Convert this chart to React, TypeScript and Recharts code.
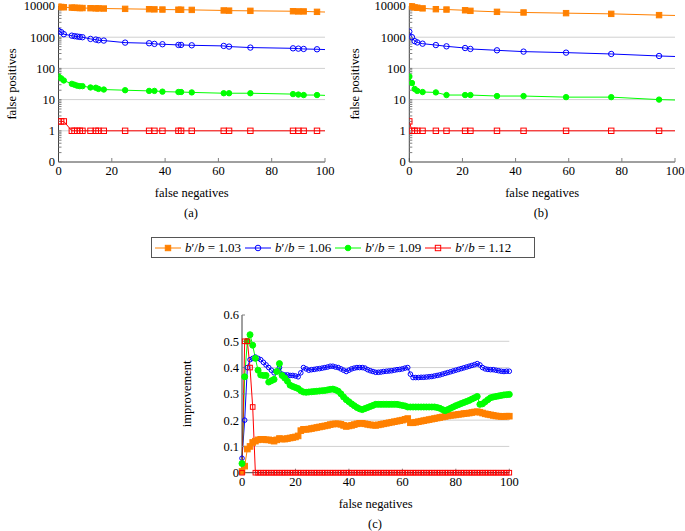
import React from 'react';
import { LineChart, Line, XAxis, YAxis, CartesianGrid } from 'recharts';

// series: b'/b ratios
const RATIOS = ['1.03', '1.06', '1.09', '1.12'];
const COLORS = ['#ff8000', '#0000ff', '#00ff00', '#ff0000'];
const SHAPES = ['square', 'circle', 'circle', 'square'];
const FILLED = [true, false, true, false];

// panel (a): false negatives vs false positives (last point lies past the frame)
const FN_A = [0, 1, 2, 5, 6, 7, 8, 9, 12, 14, 15, 17, 25, 34, 36, 39, 45, 46, 50, 62, 64, 72, 88, 90, 92, 97, 104];
const ORANGE_A = [9500, 9300, 9100, 8900, 8800, 8700, 8600, 8600, 8500, 8400, 8400, 8300, 8100, 7900, 7800, 7700, 7600, 7600, 7500, 7200, 7100, 7000, 6800, 6700, 6700, 6500, 6300];
const BLUE_A = [1600, 1450, 1250, 1120, 1080, 1050, 1020, 1000, 880, 840, 800, 780, 670, 640, 610, 595, 565, 565, 550, 525, 500, 465, 440, 430, 420, 410, 390];
const GREEN_A = [55, 48, 41, 32, 30, 28, 27, 27, 24.5, 24, 22, 21, 20, 19, 19, 18, 17.5, 17.5, 17, 16, 16, 16, 15, 14.5, 14, 14, 13.2];
const RED_A = [2, 2, 2, 1, 1, 1, 1, 1, 1, 1, 1, 1, 1, 1, 1, 1, 1, 1, 1, 1, 1, 1, 1, 1, 1, 1, 1];

// panel (b)
const FN_B = [0, 1, 2, 3, 5, 10, 14, 21, 23, 33, 43, 59, 76, 94, 104];
const ORANGE_B = [9800, 9700, 9000, 8800, 8400, 7900, 7700, 7300, 7000, 6500, 6200, 5900, 5600, 5100, 4900];
const BLUE_B = [1500, 1000, 750, 680, 620, 560, 510, 450, 420, 380, 345, 320, 290, 250, 235];
const GREEN_B = [55, 34, 22, 19, 17.5, 17, 14, 14, 14, 13, 13, 12, 12, 10, 9.5];
const RED_B = [2, 1, 1, 1, 1, 1, 1, 1, 1, 1, 1, 1, 1, 1, 1];

// panel (c): improvement
const FN_C = [
  0, 1, 2, 3, 4, 5, 6, 7, 8, 9, 10, 11, 12, 13, 14, 15, 16, 17, 18, 19, 20,
  21, 22, 23, 24, 25, 26, 27, 28, 29, 30, 31, 32, 33, 34, 35, 36, 37, 38, 39, 40,
  41, 42, 43, 44, 45, 46, 47, 48, 49, 50, 51, 52, 53, 54, 55, 56, 57, 58, 59, 60,
  61, 62, 63, 64, 65, 66, 67, 68, 69, 70, 71, 72, 73, 74, 75, 76, 77, 78, 79, 80,
  81, 82, 83, 84, 85, 86, 87, 88, 89, 90, 91, 92, 93, 94, 95, 96, 97, 98, 99, 100,
];
const ORANGE_C = [
  0.005, 0.025, 0.09, 0.1, 0.115, 0.12, 0.125, 0.127, 0.127, 0.125, 0.125, 0.123, 0.12, 0.125, 0.13, 0.128, 0.128, 0.13, 0.132, 0.134, 0.136,
  0.14, 0.16, 0.165, 0.165, 0.166, 0.168, 0.17, 0.172, 0.174, 0.176, 0.178, 0.18, 0.183, 0.185, 0.186, 0.186, 0.184, 0.18, 0.176, 0.178,
  0.18, 0.183, 0.186, 0.188, 0.188, 0.186, 0.184, 0.182, 0.181, 0.18, 0.182, 0.184, 0.186, 0.188, 0.19, 0.192, 0.194, 0.196, 0.198, 0.2,
  0.203, 0.206, 0.19, 0.19, 0.192, 0.194, 0.196, 0.198, 0.2, 0.202, 0.204, 0.206, 0.208, 0.21, 0.212, 0.214, 0.216, 0.218, 0.219, 0.22,
  0.222, 0.223, 0.225, 0.226, 0.227, 0.229, 0.231, 0.232, 0.23, 0.227, 0.224, 0.222, 0.22, 0.218, 0.216, 0.215, 0.214, 0.214, 0.215, 0.215,
];
const BLUE_C = [
  0.055, 0.2, 0.4, 0.43, 0.435, 0.44, 0.435, 0.43, 0.42, 0.41, 0.4, 0.39, 0.38, 0.385, 0.4, 0.375, 0.372, 0.372, 0.37, 0.37, 0.368,
  0.365, 0.38, 0.4, 0.395, 0.39, 0.392, 0.393, 0.395, 0.396, 0.398, 0.4, 0.402, 0.405, 0.405, 0.402, 0.4, 0.395, 0.39, 0.385, 0.39,
  0.395, 0.398, 0.4, 0.4, 0.4, 0.398, 0.392, 0.388, 0.385, 0.382, 0.382, 0.383, 0.385, 0.386, 0.387, 0.388, 0.39, 0.392, 0.393, 0.395,
  0.398, 0.4, 0.375, 0.362, 0.362, 0.362, 0.363, 0.363, 0.364, 0.365, 0.366, 0.368, 0.37, 0.372, 0.375, 0.378, 0.381, 0.384, 0.387, 0.39,
  0.393, 0.396, 0.399, 0.402, 0.405, 0.408, 0.411, 0.415, 0.41, 0.4, 0.395, 0.393, 0.392, 0.392, 0.39, 0.388, 0.386, 0.385, 0.386, 0.386,
];
const GREEN_C = [
  0.035, 0.365, 0.5, 0.525, 0.485, 0.435, 0.39, 0.372, 0.37, 0.37, 0.345, 0.35, 0.355, 0.385, 0.415, 0.37, 0.36, 0.348, 0.333, 0.328, 0.324,
  0.32, 0.312, 0.307, 0.306, 0.307, 0.308, 0.309, 0.31, 0.311, 0.312, 0.313, 0.315, 0.317, 0.318, 0.315, 0.31, 0.3, 0.288, 0.278, 0.27,
  0.262, 0.255, 0.248, 0.243, 0.24, 0.244, 0.248, 0.252, 0.256, 0.26, 0.26, 0.26, 0.26, 0.26, 0.26, 0.26, 0.26, 0.26, 0.258, 0.256,
  0.254, 0.25, 0.25, 0.25, 0.25, 0.25, 0.25, 0.25, 0.25, 0.25, 0.25, 0.25, 0.248, 0.245, 0.24, 0.236, 0.24, 0.245, 0.25, 0.255,
  0.259, 0.263, 0.267, 0.271, 0.275, 0.28, 0.285, 0.29, 0.26, 0.262, 0.27, 0.278, 0.285, 0.288, 0.29, 0.292, 0.294, 0.296, 0.297, 0.298,
];
const RED_C = [
  0, 0.5, 0.5, 0.4, 0.25, 0, 0, 0, 0, 0, 0, 0, 0, 0, 0, 0, 0, 0, 0, 0, 0,
  0, 0, 0, 0, 0, 0, 0, 0, 0, 0, 0, 0, 0, 0, 0, 0, 0, 0, 0, 0,
  0, 0, 0, 0, 0, 0, 0, 0, 0, 0, 0, 0, 0, 0, 0, 0, 0, 0, 0, 0,
  0, 0, 0, 0, 0, 0, 0, 0, 0, 0, 0, 0, 0, 0, 0, 0, 0, 0, 0, 0,
  0, 0, 0, 0, 0, 0, 0, 0, 0, 0, 0, 0, 0, 0, 0, 0, 0, 0, 0, 0,
];

// axes
const X_TICKS = [0, 20, 40, 60, 80, 100];
const LOG_MAJOR_TICKS = [0, 1, 2, 3, 4, 5];
const LOG_MAJOR_LABELS = ['0', '1', '10', '100', '1000', '10000'];
const LOG_MINOR_MULT = [2, 3, 4, 5, 6, 7, 8, 9];
const IMPR_TICKS = [0, 0.1, 0.2, 0.3, 0.4, 0.5, 0.6];
const IMPR_GRID = [0.1, 0.2, 0.3, 0.4, 0.5];

// 0 is drawn one decade below 1 on the log axis
const toLog = (v: number) => (v > 0 ? Math.log10(v) + 1 : 0);

const LOG_TICKS = [
  ...LOG_MAJOR_TICKS,
  ...[0, 1, 2, 3, 4].flatMap((d) => LOG_MINOR_MULT.map((m) => d + Math.log10(m))),
].sort((a, b) => a - b);

const logLabel = (v: number) => {
  const i = LOG_MAJOR_TICKS.indexOf(v);
  return i >= 0 ? LOG_MAJOR_LABELS[i] : '';
};

const buildRows = (fn: number[], series: number[][], f: (v: number) => number) =>
  fn.map((x, i) => {
    const r: Record<string, number> = { fn: x };
    series.forEach((s, k) => {
      r[`s${k}`] = f(s[i]);
    });
    return r;
  });

const rowsA = buildRows(FN_A, [ORANGE_A, BLUE_A, GREEN_A, RED_A], toLog);
const rowsB = buildRows(FN_B, [ORANGE_B, BLUE_B, GREEN_B, RED_B], toLog);
const rowsC = buildRows(FN_C, [ORANGE_C, BLUE_C, GREEN_C, RED_C], (v) => v);

const FONT = '"Liberation Serif", "Times New Roman", serif';
const TICK_STYLE = { fill: '#000', fontSize: 12.5, fontFamily: FONT };
const LABEL_STYLE = { fill: '#000', fontSize: 12.5, fontFamily: FONT };
const AXIS = { stroke: '#404040', strokeWidth: 1 };
const TLINE = { stroke: '#808080', strokeWidth: 1 };
const blank = () => '';

const markerFor = (k: number, size: number) => (props: any) => {
  const { cx, cy, index, payload } = props;
  const key = `m${k}-${index}`;
  if (cx == null || cy == null || (payload && payload.fn > 100)) return <g key={key} />;
  const c = COLORS[k];
  const fill = FILLED[k] ? c : 'none';
  if (SHAPES[k] === 'square') {
    return <rect key={key} x={cx - size} y={cy - size} width={size * 2} height={size * 2} fill={fill} stroke={c} strokeWidth={1} />;
  }
  return <circle key={key} cx={cx} cy={cy} r={size} fill={fill} stroke={c} strokeWidth={1} />;
};

function LogPanel({ rows, width, yAxisWidth, marginRight, yLabelX }: any) {
  return (
    <LineChart width={width} height={200} data={rows} margin={{ top: 6, right: marginRight, bottom: 0, left: 0 }}>
      <CartesianGrid xAxisId="b" yAxisId="l" vertical={false} horizontalValues={[1, 2, 3, 4]} stroke="#d0d0d0" />
      <XAxis
        xAxisId="b"
        dataKey="fn"
        type="number"
        domain={[0, 100]}
        ticks={X_TICKS}
        allowDataOverflow
        interval={0}
        height={38}
        tickSize={-4}
        tickMargin={8}
        tick={TICK_STYLE}
        axisLine={AXIS}
        tickLine={TLINE}
        label={{ value: 'false negatives', position: 'insideBottom', offset: 3.5, style: LABEL_STYLE }}
      />
      <XAxis xAxisId="t" orientation="top" dataKey="fn" type="number" domain={[0, 100]} ticks={X_TICKS} allowDataOverflow interval={0} height={0} tickSize={-4} tickFormatter={blank} axisLine={AXIS} tickLine={TLINE} />
      <YAxis
        yAxisId="l"
        type="number"
        domain={[0, 5]}
        ticks={LOG_TICKS}
        interval={0}
        width={yAxisWidth}
        tickSize={-3}
        tickMargin={6.5}
        tickFormatter={logLabel}
        tick={TICK_STYLE}
        axisLine={AXIS}
        tickLine={TLINE}
        label={{ value: 'false positives', angle: -90, position: 'insideLeft', offset: yLabelX, style: { ...LABEL_STYLE, textAnchor: 'middle' } }}
      />
      <YAxis yAxisId="r" orientation="right" type="number" domain={[0, 5]} ticks={LOG_TICKS} interval={0} width={0} tickSize={-3} tickFormatter={blank} axisLine={AXIS} tickLine={TLINE} />
      {[0, 1, 2, 3].map((k) => (
        <Line key={k} xAxisId="b" yAxisId="l" type="linear" dataKey={`s${k}`} stroke={COLORS[k]} strokeWidth={1} dot={markerFor(k, 2.7)} isAnimationActive={false} />
      ))}
    </LineChart>
  );
}

function ImprovementPanel() {
  return (
    <LineChart width={350} height={230} data={rowsC} margin={{ top: 25, right: 10.7, bottom: 0, left: 0 }}>
      <CartesianGrid xAxisId="b" yAxisId="l" vertical={false} horizontalValues={IMPR_GRID} stroke="#d0d0d0" />
      <XAxis
        xAxisId="b"
        dataKey="fn"
        type="number"
        domain={[0, 100]}
        ticks={X_TICKS}
        interval={0}
        height={47.3}
        tickSize={-4}
        tickMargin={8}
        tick={TICK_STYLE}
        axisLine={AXIS}
        tickLine={TLINE}
        label={{ value: 'false negatives', position: 'insideBottom', offset: 12, style: LABEL_STYLE }}
      />
      <XAxis xAxisId="t" orientation="top" dataKey="fn" type="number" domain={[0, 100]} ticks={X_TICKS} interval={0} height={0} tickSize={-4} tickFormatter={blank} axisLine={AXIS} tickLine={TLINE} />
      <YAxis
        yAxisId="l"
        type="number"
        domain={[0, 0.6]}
        ticks={IMPR_TICKS}
        interval={0}
        width={72}
        tickSize={-3}
        tickMargin={6}
        tickFormatter={(v: number) => (v === 0 ? '0' : v.toFixed(1))}
        tick={TICK_STYLE}
        axisLine={AXIS}
        tickLine={TLINE}
        label={{ value: 'improvement', angle: -90, position: 'insideLeft', offset: 17, style: { ...LABEL_STYLE, textAnchor: 'middle' } }}
      />
      <YAxis yAxisId="r" orientation="right" type="number" domain={[0, 0.6]} ticks={IMPR_TICKS} interval={0} width={0} tickSize={-3} tickFormatter={blank} axisLine={AXIS} tickLine={TLINE} />
      {[0, 1, 2, 3].map((k) => (
        <Line
          key={k}
          xAxisId="b"
          yAxisId="l"
          type="linear"
          dataKey={`s${k}`}
          stroke={COLORS[k]}
          strokeWidth={1}
          dot={markerFor(k, k === 0 ? 2.8 : k === 2 ? 3 : 2.3)}
          isAnimationActive={false}
        />
      ))}
    </LineChart>
  );
}

function LegendIcon({ k }: { k: number }) {
  const c = COLORS[k];
  const fill = FILLED[k] ? c : 'none';
  return (
    <svg width={26} height={10} style={{ display: 'block' }}>
      <line x1={0} y1={5} x2={26} y2={5} stroke={c} strokeWidth={1} />
      {SHAPES[k] === 'square' ? (
        <rect x={10.3} y={2.3} width={5.4} height={5.4} fill={fill} stroke={c} />
      ) : (
        <circle cx={13} cy={5} r={2.8} fill={fill} stroke={c} />
      )}
    </svg>
  );
}

const caption = (text: string, cx: number, cy: number) => (
  <div style={{ position: 'absolute', left: cx - 20, top: cy - 8, width: 40, textAlign: 'center', fontSize: 12.5, lineHeight: '16px' }}>{text}</div>
);

export default function App() {
  return (
    <div style={{ position: 'absolute', left: 0, top: 0, width: 685, height: 531, background: '#fff', fontFamily: FONT, color: '#000' }}>
      <div style={{ position: 'absolute', left: 0, top: 0 }}>
        <LogPanel rows={rowsA} width={340} yAxisWidth={58.5} marginRight={15} yLabelX={12} />
      </div>
      <div style={{ position: 'absolute', left: 340, top: 0 }}>
        <LogPanel rows={rowsB} width={345} yAxisWidth={69.3} marginRight={10} yLabelX={15} />
      </div>
      {caption('(a)', 191, 213)}
      {caption('(b)', 541, 213)}

      <div
        style={{
          position: 'absolute',
          left: 151,
          top: 237,
          width: 379,
          height: 19,
          border: '1px solid #555',
          display: 'flex',
          alignItems: 'center',
          paddingLeft: 3,
          boxSizing: 'content-box',
          fontSize: 13,
        }}
      >
        {RATIOS.map((r, k) => (
          <div key={r} style={{ display: 'flex', alignItems: 'center', marginRight: 4 }}>
            <LegendIcon k={k} />
            <span style={{ marginLeft: 4, whiteSpace: 'nowrap' }}>
              <i>b</i>′/<i>b</i> = {r}
            </span>
          </div>
        ))}
      </div>

      <div style={{ position: 'absolute', left: 170, top: 290 }}>
        <ImprovementPanel />
      </div>
      {caption('(c)', 375, 524)}
    </div>
  );
}
